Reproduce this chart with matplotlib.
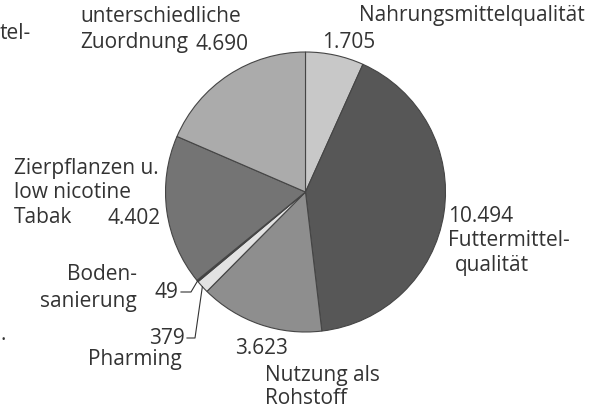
import numpy as np
import matplotlib
matplotlib.use("Agg")
import matplotlib.pyplot as plt

categories = ["Nahrungsmittelqualität", "Futtermittelqualität", "Nutzung als Rohstoff",
              "Pharming", "Bodensanierung", "Zierpflanzen u. low nicotine Tabak",
              "unterschiedliche Zuordnung"]
values = [1705, 10494, 3623, 379, 49, 4402, 4690]
value_labels = ["1.705", "10.494", "3.623", "379", "49", "4.402", "4.690"]
colors = ["#c8c8c8", "#575757", "#8e8e8e", "#e2e2e2", "#3a3a3a", "#747474", "#ababab"]

W, H = 597, 412
fig = plt.figure(figsize=(W / 100, H / 100), dpi=100)
ax = fig.add_axes([0, 0, 1, 1])

cx, cy, R = 305.5, 192, 140
wedges, _ = ax.pie(values, colors=colors, startangle=90, counterclock=False,
                   center=(cx, H - cy), radius=R, frame=True,
                   wedgeprops=dict(edgecolor="#454545", linewidth=0.8))
ax.set_xlim(0, W)
ax.set_ylim(0, H)
ax.axis("off")

def edge_point(w, r=R):
    ang = np.deg2rad((w.theta1 + w.theta2) / 2)
    return w.center[0] + r * np.cos(ang), w.center[1] + r * np.sin(ang)

font = dict(family=["Open Sans", "DejaVu Sans"], color="#333333", fontsize=15)

def t(x, y, s, ha="left"):
    ax.text(x, H - y, s, ha=ha, va="center", **font)

# labels (pixel positions from top-left)
t(585, 15, "Nahrungsmittelqualität", ha="right")
t(322, 42, value_labels[0])
t(448, 216, value_labels[1])
t(448, 240, "Futtermittel-")
t(455, 265, "qualität")
t(235, 348, value_labels[2])
t(265, 375, "Nutzung als")
t(265, 399, "Rohstoff")
t(185, 338, value_labels[3], ha="right")
t(182, 360, "Pharming", ha="right")
t(178, 292, value_labels[4], ha="right")
t(137, 274, "Boden-", ha="right")
t(137, 301, "sanierung", ha="right")
t(14, 168, "Zierpflanzen u.")
t(14, 192, "low nicotine")
t(14, 217, "Tabak")
t(161, 218, value_labels[5], ha="right")
t(80, 16, "unterschiedliche")
t(80, 42, "Zuordnung")
t(195, 44, value_labels[6])

# fragments from neighbouring figure at the left edge
t(0, 33, "tel-")
t(0, 334, ".")

# leader lines
px, py = edge_point(wedges[3])
ax.plot([187, 195, px], [H - 338, H - 338, py], color="#333333", lw=0.8)
bx, by = edge_point(wedges[4])
ax.plot([181, 191, bx], [H - 292, H - 292, by], color="#333333", lw=0.8)

fig.savefig("out.png", dpi=100)
